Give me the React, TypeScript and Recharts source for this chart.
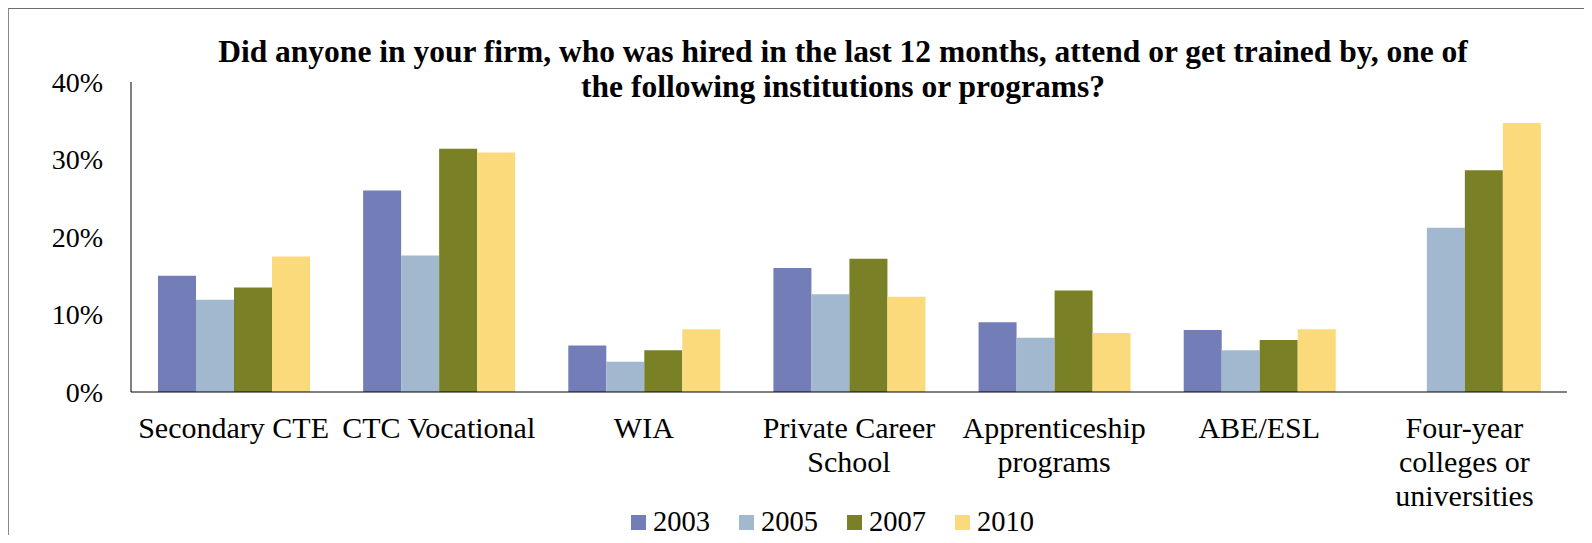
import React from 'react';
import { BarChart, Bar, XAxis, YAxis, Legend } from 'recharts';

const categories = [
  'Secondary CTE',
  'CTC Vocational',
  'WIA',
  'Private Career School',
  'Apprenticeship programs',
  'ABE/ESL',
  'Four-year colleges or universities',
];

// how each category label breaks into lines under the axis
const tickLines = [
  ['Secondary CTE'],
  ['CTC Vocational'],
  ['WIA'],
  ['Private Career', 'School'],
  ['Apprenticeship', 'programs'],
  ['ABE/ESL'],
  ['Four-year', 'colleges or', 'universities'],
];

const years = ['2003', '2005', '2007', '2010'];
const colors = ['#737db8', '#a2b8ce', '#7a8026', '#fada7b'];

const v2003 = [15.0, 26.0, 6.0, 16.0, 9.0, 8.0, null];
const v2005 = [11.9, 17.6, 3.9, 12.6, 7.0, 5.4, 21.2];
const v2007 = [13.5, 31.4, 5.4, 17.2, 13.1, 6.7, 28.6];
const v2010 = [17.5, 30.9, 8.1, 12.3, 7.6, 8.1, 34.7];

const yTicks = [0, 10, 20, 30, 40];

const series = [v2003, v2005, v2007, v2010];

const data = categories.map((name, i) => {
  const row: Record<string, any> = { name, idx: i };
  years.forEach((y, k) => {
    row[y] = series[k][i];
  });
  return row;
});

const FONT = '"Liberation Serif", "Times New Roman", serif';

const CategoryTick = (props: any) => {
  const { x, y, index } = props;
  const lines = tickLines[index] || [];
  return (
    <g>
      {lines.map((ln, i) => (
        <text
          key={i}
          x={x}
          y={y + 46 + i * 34}
          textAnchor="middle"
          fontFamily={FONT}
          fontSize={30}
          fill="#000"
        >
          {ln}
        </text>
      ))}
    </g>
  );
};

const LegendContent = () => (
  <div style={{ display: 'flex', fontFamily: FONT, fontSize: 28.5, lineHeight: '32px', whiteSpace: 'nowrap' }}>
    {years.map((y, k) => (
      <div key={y} style={{ display: 'flex', alignItems: 'center', marginRight: k < years.length - 1 ? 29 : 0 }}>
        <span style={{ display: 'inline-block', width: 15, height: 15, background: colors[k], marginRight: 7 }} />
        <span style={{ color: '#000' }}>{y}</span>
      </div>
    ))}
  </div>
);

export default function App() {
  return (
    <div
      style={{
        position: 'relative',
        width: 1581,
        height: 526,
        borderTop: '1px solid #6e6e6e',
        borderLeft: '1px solid #8a8a8a',
        borderRight: '1px solid #8a8a8a',
        background: '#fff',
      }}
    >
      <div
        style={{
          position: 'absolute',
          left: 834,
          top: 25,
          transform: 'translateX(-50%)',
          whiteSpace: 'nowrap',
          textAlign: 'center',
          fontFamily: FONT,
          fontWeight: 'bold',
          fontSize: 31.5,
          lineHeight: '35px',
          color: '#000',
        }}
      >
        <div>Did anyone in your firm, who was hired in the last 12 months, attend or get trained by, one of</div>
        <div>the following institutions or programs?</div>
      </div>
      <BarChart
        width={1581}
        height={526}
        data={data}
        margin={{ top: 73, right: 23, bottom: 43, left: 0 }}
        barGap={0}
        barCategoryGap={27}
      >
        <XAxis
          dataKey="name"
          interval={0}
          height={100}
          axisLine={{ stroke: '#000', strokeWidth: 1 }}
          tickLine={false}
          tickSize={0}
          tickMargin={0}
          tick={<CategoryTick />}
        />
        <YAxis
          width={122}
          domain={[0, 40]}
          ticks={yTicks}
          interval={0}
          axisLine={{ stroke: '#000', strokeWidth: 1 }}
          tickLine={false}
          tickSize={0}
          tickMargin={28}
          tickFormatter={(v: number) => `${v}%`}
          tick={{ fontFamily: FONT, fontSize: 28, fill: '#000' }}
        />
        <Legend
          verticalAlign="middle"
          align="center"
          content={<LegendContent />}
          wrapperStyle={{ top: 497, left: 622, width: 430, height: 32 }}
        />
        {years.map((y, k) => (
          <Bar key={y} dataKey={y} fill={colors[k]} isAnimationActive={false} />
        ))}
      </BarChart>
    </div>
  );
}
